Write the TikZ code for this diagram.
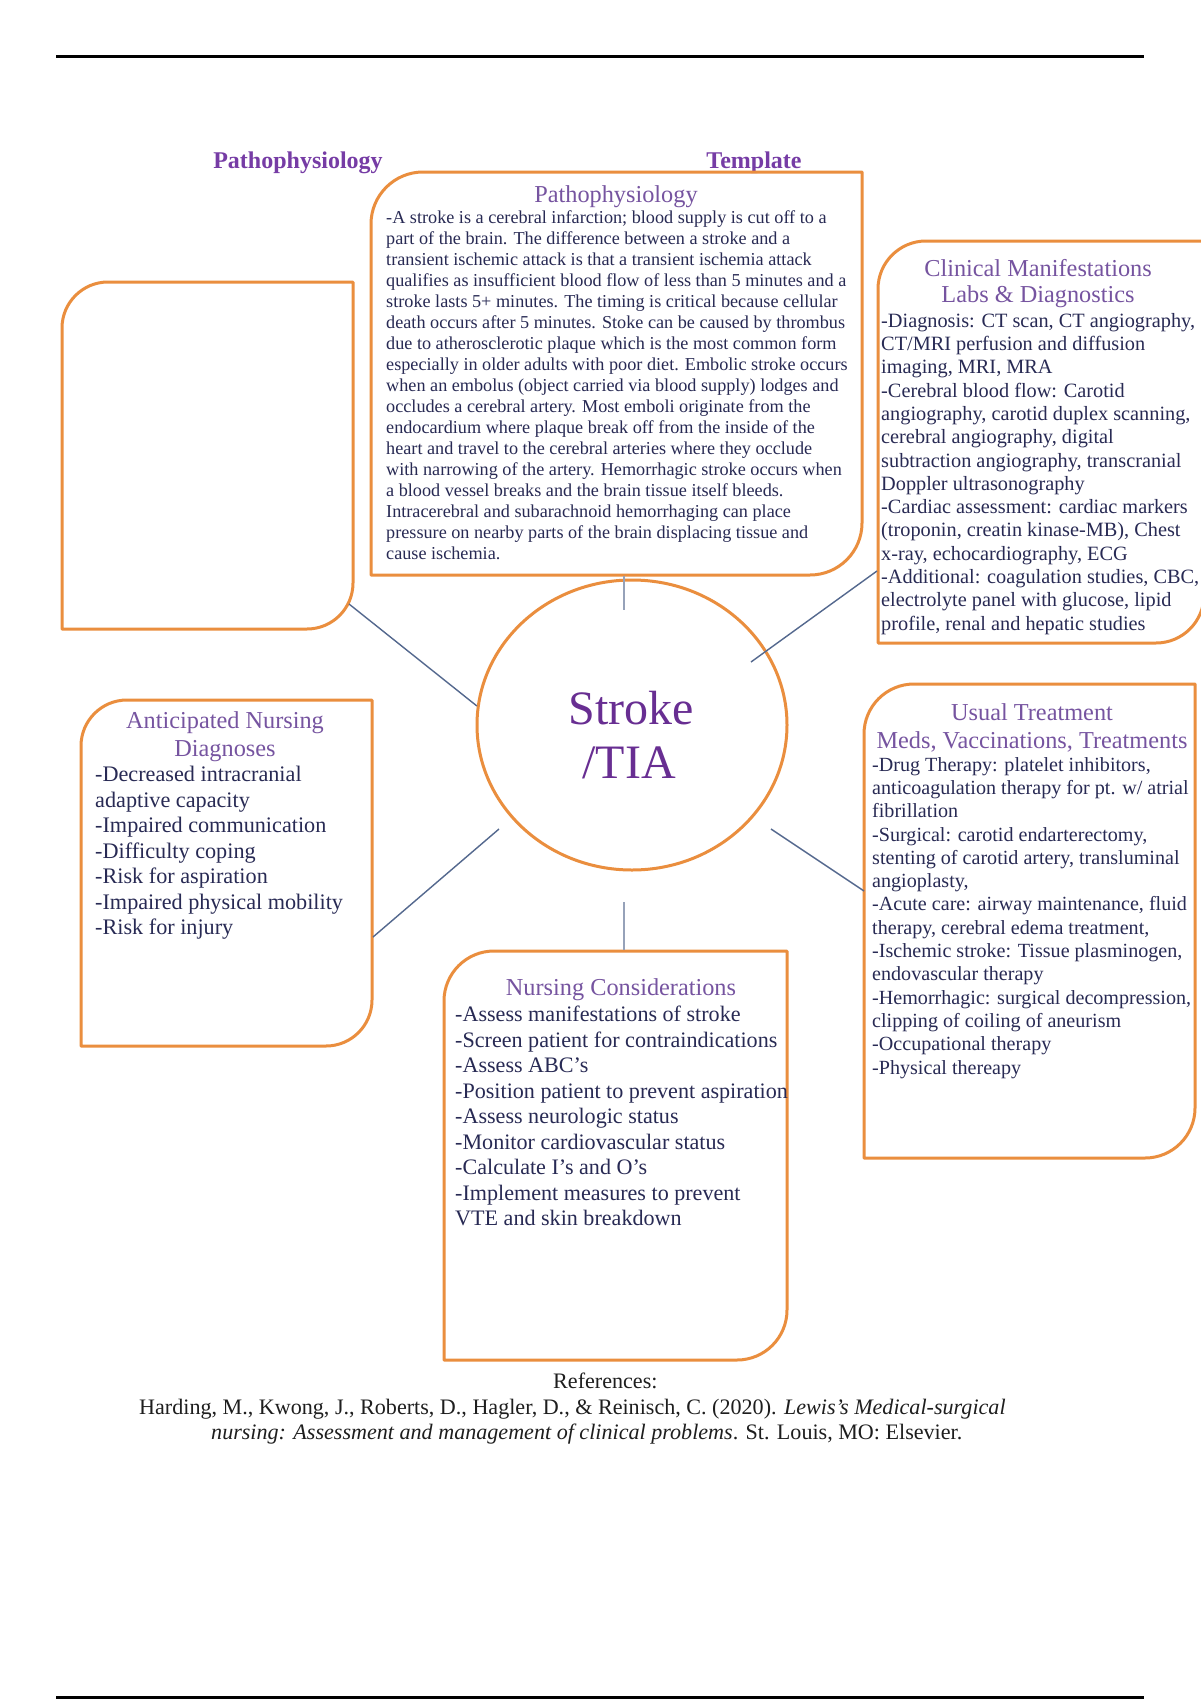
\documentclass[tikz,border=0pt]{standalone}
\usepackage{fontspec}
\setmainfont{Liberation Serif}
\usetikzlibrary{calc,shapes.geometric}

\definecolor{boxorange}{RGB}{234,142,62}
\definecolor{hdrpurple}{RGB}{118,84,160}
\definecolor{bodynavy}{RGB}{40,42,84}
\definecolor{strokepurple}{RGB}{104,46,146}
\definecolor{titlepurple}{RGB}{118,60,165}
\definecolor{linkblue}{RGB}{84,104,142}
\definecolor{stubgray}{RGB}{150,162,185}
\definecolor{refblack}{RGB}{30,30,30}

\newcommand\fsz[2]{\fontsize{#1}{#2}\selectfont}
% #1 name, #2 x1, #3 y1, #4 x2, #5 y2, #6 radius
\newcommand\diagbox[6]{%
  \node[frame,minimum width={#4-#2},minimum height={#5-#3}] (#1) at (#2,#3) {};
  \draw[boxline] (#2,#3+#6) .. controls (#2,#3+0.448*#6) and (#2+0.448*#6,#3) .. (#2+#6,#3)
    -- (#4,#3) -- (#4,#5-#6)
    .. controls (#4,#5-0.448*#6) and (#4-0.448*#6,#5) .. (#4-#6,#5)
    -- (#2,#5) -- cycle;}

\begin{document}
\begin{tikzpicture}[x=1pt,y=-1pt,
  frame/.style={rectangle,draw=none,inner sep=0pt,anchor=north west},
  boxline/.style={draw=boxorange,line width=3pt,line join=round},
  hdr/.style={text=hdrpurple,font=\fsz{24.3}{28},inner sep=0pt,anchor=base},
  body/.style={text=bodynavy,inner sep=0pt,anchor=north west,align=left},
  link/.style={draw=linkblue,line width=1.4pt},
  stub/.style={draw=stubgray,line width=1.6pt},
  rule/.style={draw=black,line width=3pt},
  reftext/.style={text=refblack,font=\fsz{22.1}{25},inner sep=0pt,anchor=base west},
]
\useasboundingbox[fill=white] (0,0) rectangle (1200,1700);

% page rules
\coordinate (rtl) at (56,56);
\coordinate (rtr) at (1144,56);
\coordinate (rbl) at (56,1697);
\coordinate (rbr) at (1144,1697);
\draw[rule] (rtl) -- (rtr);
\draw[rule] (rbl) -- (rbr);

% titles
\node[text=titlepurple,font=\bfseries\fsz{24}{28},inner sep=0pt,anchor=base] (t1) at (298,168) {Pathophysiology};
\node[text=titlepurple,font=\bfseries\fsz{24}{28},inner sep=0pt,anchor=base] (t2) at (754,168) {Template};

% boxes
\diagbox{patho}{371}{172}{862}{575}{52}
\diagbox{blank}{62}{282}{353}{629}{46}
\diagbox{clin}{878}{241}{1204}{643}{48}
\diagbox{antic}{81}{700}{372}{1046}{46}
\diagbox{nurse}{444}{951}{787}{1360}{50}
\diagbox{treat}{864}{684}{1195}{1158}{50}

% centre
\node[ellipse,draw=boxorange,line width=3pt,minimum width=310pt,minimum height=290pt,inner sep=0pt] (core) at (632,725) {};
\node[text=strokepurple,font=\fsz{48}{54},inner sep=0pt,anchor=base] (s1) at (631,724) {Stroke};
\node[text=strokepurple,font=\fsz{48}{54},inner sep=0pt,anchor=base] (s2) at (629,778) {/TIA};

% connectors
\coordinate (c1a) at (349,604);
\draw[link] (c1a) -- (core.173);
\coordinate (c2a) at (751,662);
\coordinate (c2b) at (877,571);
\draw[link] (c2a) -- (c2b);
\coordinate (c3a) at (373,937);
\coordinate (c3b) at (499,829);
\draw[link] (c3a) -- (c3b);
\coordinate (c4a) at (771,829);
\coordinate (c4b) at (864,891);
\draw[link] (c4a) -- (c4b);
\coordinate (c5a) at (624,576);
\coordinate (c5b) at (624,610);
\draw[stub] (c5a) -- (c5b);
\coordinate (c6a) at (624,902);
\coordinate (c6b) at (624,950);
\draw[stub] (c6a) -- (c6b);

% pathophysiology text
\node[hdr] (ph) at (616,202) {Pathophysiology};
\node[body,font=\fsz{18.2}{21}] (pb) at (386,210) {-A stroke is a cerebral infarction; blood supply is cut off to a\\
part of the brain. The difference between a stroke and a\\
transient ischemic attack is that a transient ischemia attack\\
qualifies as insufficient blood flow of less than 5 minutes and a\\
stroke lasts 5+ minutes. The timing is critical because cellular\\
death occurs after 5 minutes. Stoke can be caused by thrombus\\
due to atherosclerotic plaque which is the most common form\\
especially in older adults with poor diet. Embolic stroke occurs\\
when an embolus (object carried via blood supply) lodges and\\
occludes a cerebral artery. Most emboli originate from the\\
endocardium where plaque break off from the inside of the\\
heart and travel to the cerebral arteries where they occlude\\
with narrowing of the artery. Hemorrhagic stroke occurs when\\
a blood vessel breaks and the brain tissue itself bleeds.\\
Intracerebral and subarachnoid hemorrhaging can place\\
pressure on nearby parts of the brain displacing tissue and\\
cause ischemia.};

% clinical manifestations
\node[hdr] (ch1) at (1038,276) {Clinical Manifestations};
\node[hdr] (ch2) at (1038,302) {Labs \& Diagnostics};
\node[body,font=\fsz{20.3}{23.3}] (cb) at (881,313) {-Diagnosis: CT scan, CT angiography,\\
CT/MRI perfusion and diffusion\\
imaging, MRI, MRA\\
-Cerebral blood flow: Carotid\\
angiography, carotid duplex scanning,\\
cerebral angiography, digital\\
subtraction angiography, transcranial\\
Doppler ultrasonography\\
-Cardiac assessment: cardiac markers\\
(troponin, creatin kinase-MB), Chest\\
x-ray, echocardiography, ECG\\
-Additional: coagulation studies, CBC,\\
electrolyte panel with glucose, lipid\\
profile, renal and hepatic studies};

% usual treatment
\node[hdr] (uh1) at (1032,720) {Usual Treatment};
\node[hdr] (uh2) at (1032,748) {Meds, Vaccinations, Treatments};
\node[body,font=\fsz{20.1}{23.3}] (ub) at (872,757) {-Drug Therapy: platelet inhibitors,\\
anticoagulation therapy for pt. w/ atrial\\
fibrillation\\
-Surgical: carotid endarterectomy,\\
stenting of carotid artery, transluminal\\
angioplasty,\\
-Acute care: airway maintenance, fluid\\
therapy, cerebral edema treatment,\\
-Ischemic stroke: Tissue plasminogen,\\
endovascular therapy\\
-Hemorrhagic: surgical decompression,\\
clipping of coiling of aneurism\\
-Occupational therapy\\
-Physical thereapy};

% anticipated nursing diagnoses
\node[hdr] (ah1) at (225,728) {Anticipated Nursing};
\node[hdr] (ah2) at (225,756) {Diagnoses};
\node[body,font=\fsz{22.2}{25.5}] (ab) at (95,766) {-Decreased intracranial\\
adaptive capacity\\
-Impaired communication\\
-Difficulty coping\\
-Risk for aspiration\\
-Impaired physical mobility\\
-Risk for injury};

% nursing considerations
\node[hdr] (nh) at (621,995) {Nursing Considerations};
\node[body,font=\fsz{22.1}{25.5}] (nb) at (455,1006) {-Assess manifestations of stroke\\
-Screen patient for contraindications\\
-Assess ABC’s\\
-Position patient to prevent aspiration\\
-Assess neurologic status\\
-Monitor cardiovascular status\\
-Calculate I’s and O’s\\
-Implement measures to prevent\\
VTE and skin breakdown};

% references
\node[reftext] (r1) at (553,1388) {References:};
\node[reftext] (r2) at (139,1414) {Harding, M., Kwong, J., Roberts, D., Hagler, D., \& Reinisch, C. (2020). \textit{Lewis’s Medical-surgical}};
\node[reftext] (r3) at (211,1439) {\textit{nursing: Assessment and management of clinical problems}. St. Louis, MO: Elsevier.};
\end{tikzpicture}
\end{document}
